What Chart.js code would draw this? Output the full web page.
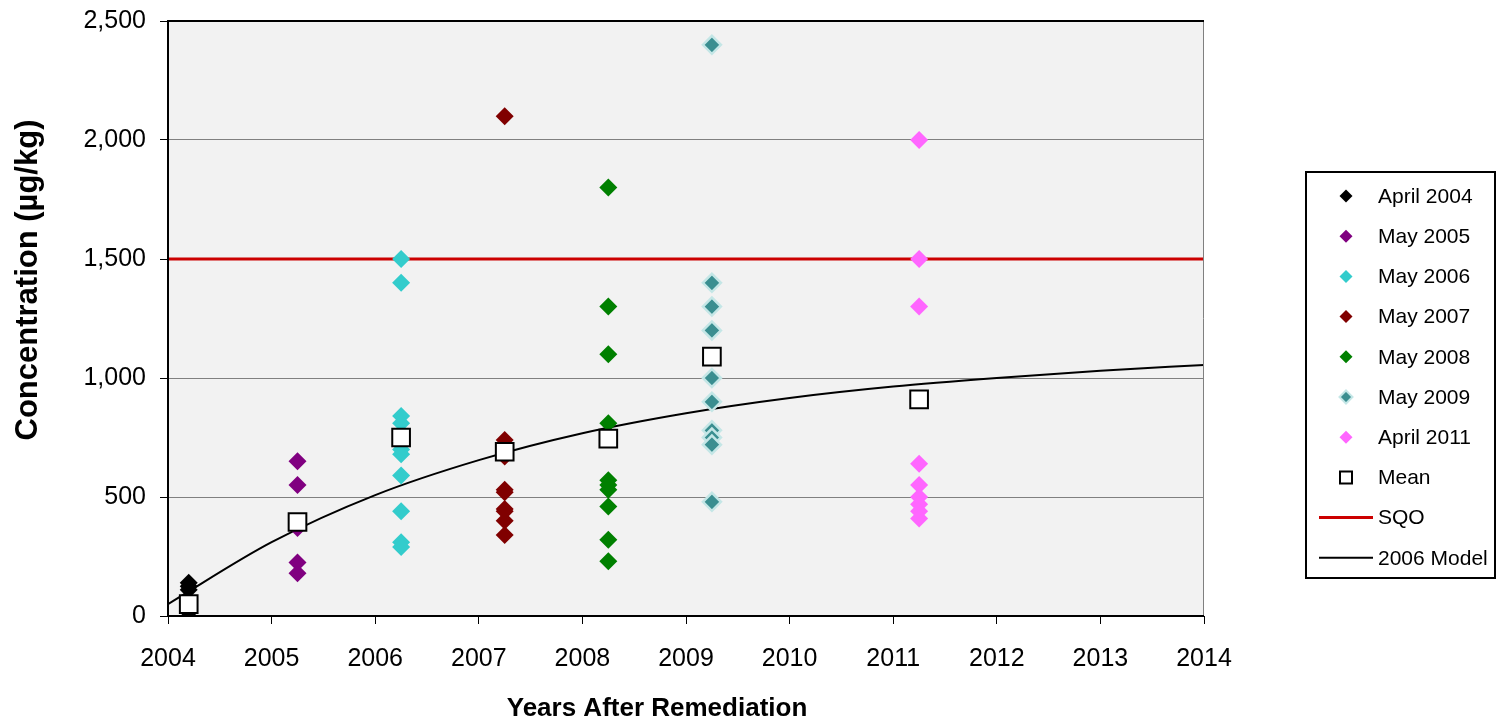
<!DOCTYPE html>
<html>
<head>
<meta charset="utf-8">
<script src="https://cdn.jsdelivr.net/npm/chart.js@4/dist/chart.umd.min.js"></script>
<style>
  html, body { margin: 0; padding: 0; background: #ffffff; }
  #wrap { width: 1497px; height: 721px; }
</style>
</head>
<body>
<div id="wrap"><canvas id="chart-item" width="1497" height="721"></canvas></div>
<script>
// sampling positions (decimal year) for each survey
var xApr2004 = 2004.2;
var xMay2005 = 2005.25;
var xMay2006 = 2006.25;
var xMay2007 = 2007.25;
var xMay2008 = 2008.25;
var xMay2009 = 2009.25;
var xApr2011 = 2011.25;

// concentrations (ug/kg)
var apr2004 = [140, 125, 110, 40, 15];
var may2005 = [650, 550, 370, 225, 180];
var may2006 = [1500, 1400, 840, 810, 700, 680, 590, 440, 310, 290];
var may2007 = [2100, 740, 670, 530, 520, 450, 440, 400, 340];
var may2008 = [1800, 1300, 1100, 810, 570, 550, 530, 460, 320, 230];
var may2009 = [2400, 1400, 1300, 1200, 1000, 900, 780, 750, 720, 480];
var apr2011 = [2000, 1500, 1300, 640, 550, 500, 470, 440, 410];

var meanYears = [2004.2, 2005.25, 2006.25, 2007.25, 2008.25, 2009.25, 2011.25];
var meanValues = [50, 395, 750, 690, 745, 1090, 910];

var sqoValue = 1500;
var sqoYears = [2004, 2014];

var modelYears = [2004, 2005, 2006, 2007, 2008, 2009, 2010, 2011, 2012, 2013, 2014];
var modelValues = [50, 310, 508, 655, 768, 852, 916, 964, 1000, 1030, 1055];

var yTicks = [0, 500, 1000, 1500, 2000, 2500];
var xTicks = [2004, 2005, 2006, 2007, 2008, 2009, 2010, 2011, 2012, 2013, 2014];

var xTitle = 'Years After Remediation';
var yTitle = 'Concentration (µg/kg)';

function pts(x, values) {
    return values.map(function (v) { return { x: x, y: v }; });
}
function pairs(xs, ys) {
    return xs.map(function (x, i) { return { x: x, y: ys[i] }; });
}

var FONT = 'Liberation Sans, Arial, sans-serif';

function diamond(label, x, values, color, border, bw) {
    return {
        type: 'scatter',
        label: label,
        data: pts(x, values),
        pointStyle: 'rectRot',
        pointRadius: 9,
        pointBackgroundColor: color,
        pointBorderColor: border || color,
        pointBorderWidth: bw || 0,
        order: 5
    };
}

var datasets = [
    diamond('April 2004', xApr2004, apr2004, '#000000'),
    diamond('May 2005', xMay2005, may2005, '#800080'),
    diamond('May 2006', xMay2006, may2006, '#33CCCC'),
    diamond('May 2007', xMay2007, may2007, '#800000'),
    diamond('May 2008', xMay2008, may2008, '#008000'),
    diamond('May 2009', xMay2009, may2009, '#3A8E90', '#C4E6E6', 2.5),
    diamond('April 2011', xApr2011, apr2011, '#FF66FF'),
    {
        type: 'scatter',
        label: 'Mean',
        data: pairs(meanYears, meanValues),
        pointStyle: 'rect',
        pointRadius: 12.5,
        pointBackgroundColor: '#ffffff',
        pointBorderColor: '#000000',
        pointBorderWidth: 2,
        order: 1
    },
    {
        type: 'line',
        label: 'SQO',
        data: sqoYears.map(function (x) { return { x: x, y: sqoValue }; }),
        borderColor: '#CC0000',
        borderWidth: 3,
        pointRadius: 0,
        order: 10
    },
    {
        type: 'line',
        label: '2006 Model',
        data: pairs(modelYears, modelValues),
        borderColor: '#000000',
        borderWidth: 2,
        pointRadius: 0,
        cubicInterpolationMode: 'monotone',
        order: 9
    }
];

// plot background + frame
var plotFrame = {
    id: 'plotFrame',
    beforeDraw: function (chart) {
        var a = chart.chartArea, ctx = chart.ctx;
        ctx.save();
        ctx.fillStyle = '#F2F2F2';
        ctx.fillRect(a.left, a.top, a.right - a.left, a.bottom - a.top);
        ctx.restore();
    },
    afterDatasetsDraw: function (chart) {
        var a = chart.chartArea, ctx = chart.ctx;
        ctx.save();
        ctx.strokeStyle = '#808080';
        ctx.lineWidth = 1;
        ctx.beginPath();
        ctx.moveTo(a.right - 0.5, a.top);
        ctx.lineTo(a.right - 0.5, a.bottom);
        ctx.stroke();
        ctx.strokeStyle = '#000000';
        ctx.lineWidth = 2;
        ctx.beginPath();
        ctx.moveTo(a.right, a.top);
        ctx.lineTo(a.left, a.top);
        ctx.lineTo(a.left, a.bottom);
        ctx.lineTo(a.right, a.bottom);
        ctx.stroke();
        ctx.restore();
    }
};

// axis titles placed like the Excel original (centred on the plot, not the scale)
var axisTitles = {
    id: 'axisTitles',
    afterDraw: function (chart) {
        var ctx = chart.ctx;
        ctx.save();
        ctx.fillStyle = '#000000';
        ctx.textAlign = 'center';
        ctx.textBaseline = 'middle';
        ctx.font = 'bold 26px ' + FONT;
        ctx.fillText(xTitle, 657, 709);
        ctx.translate(28, 280);
        ctx.rotate(-Math.PI / 2);
        ctx.font = 'bold 31px ' + FONT;
        ctx.fillText(yTitle, 0, 0);
        ctx.restore();
    }
};

// boxed legend on the right, like the Excel one
var boxLegend = {
    id: 'boxLegend',
    afterDraw: function (chart) {
        var ctx = chart.ctx;
        var left = 1306, top = 172, right = 1495, bottom = 578;
        ctx.save();
        ctx.fillStyle = '#ffffff';
        ctx.fillRect(left, top, right - left, bottom - top);
        ctx.strokeStyle = '#000000';
        ctx.lineWidth = 2;
        ctx.strokeRect(left, top, right - left, bottom - top);
        ctx.font = '21px ' + FONT;
        ctx.textBaseline = 'middle';
        ctx.textAlign = 'left';
        chart.data.datasets.forEach(function (ds, i) {
            var y = 196 + i * 40.2;
            if (ds.type === 'line') {
                ctx.strokeStyle = ds.borderColor;
                ctx.lineWidth = ds.borderWidth;
                ctx.beginPath();
                ctx.moveTo(1319, y);
                ctx.lineTo(1373, y);
                ctx.stroke();
            } else {
                var isRect = ds.pointStyle === 'rect';
                ctx.fillStyle = ds.pointBackgroundColor;
                ctx.strokeStyle = ds.pointBorderColor;
                ctx.lineWidth = 2;
                ctx.beginPath();
                if (isRect) {
                    ctx.rect(1340, y - 6, 12, 12);
                } else {
                    ctx.moveTo(1346, y - 6.5);
                    ctx.lineTo(1352.5, y);
                    ctx.lineTo(1346, y + 6.5);
                    ctx.lineTo(1339.5, y);
                    ctx.closePath();
                }
                ctx.fill();
                if (isRect || ds.pointBorderWidth) ctx.stroke();
            }
            ctx.fillStyle = '#000000';
            ctx.fillText(ds.label, 1378, y + 1);
        });
        ctx.restore();
    }
};

var ctx = document.getElementById('chart-item').getContext('2d');
var chart = new Chart(ctx, {
    type: 'scatter',
    data: { datasets: datasets },
    options: {
        responsive: false,
        animation: false,
        events: [],
        layout: { padding: { top: 21, right: 293, bottom: 0, left: 0 } },
        plugins: {
            legend: { display: false },
            tooltip: { enabled: false }
        },
        scales: {
            x: {
                type: 'linear',
                min: 2004,
                max: 2014,
                afterFit: function (scale) {
                    scale.height = 105;
                    scale.paddingLeft = 0;
                    scale.paddingRight = 0;
                },
                afterBuildTicks: function (scale) {
                    scale.ticks = xTicks.map(function (v) { return { value: v }; });
                },
                ticks: {
                    font: { family: FONT, size: 25 },
                    color: '#000000',
                    padding: 20,
                    maxRotation: 0,
                    callback: function (v) { return String(v); }
                },
                grid: {
                    drawOnChartArea: false,
                    tickLength: 8,
                    color: '#000000',
                    lineWidth: 1
                },
                border: { display: false },
                title: { display: false, text: xTitle }
            },
            y: {
                min: 0,
                max: 2500,
                afterFit: function (scale) {
                    scale.width = 168;
                    scale.paddingTop = 0;
                    scale.paddingBottom = 0;
                },
                afterBuildTicks: function (scale) {
                    scale.ticks = yTicks.map(function (v) { return { value: v }; });
                },
                ticks: {
                    font: { family: FONT, size: 25 },
                    color: '#000000',
                    padding: 14,
                    callback: function (v) { return v.toLocaleString('en-US'); }
                },
                grid: {
                    color: '#808080',
                    lineWidth: 1,
                    tickLength: 8,
                    tickColor: '#000000'
                },
                border: { display: false },
                title: { display: false, text: yTitle }
            }
        }
    },
    plugins: [plotFrame, axisTitles, boxLegend]
});
</script>
</body>
</html>
